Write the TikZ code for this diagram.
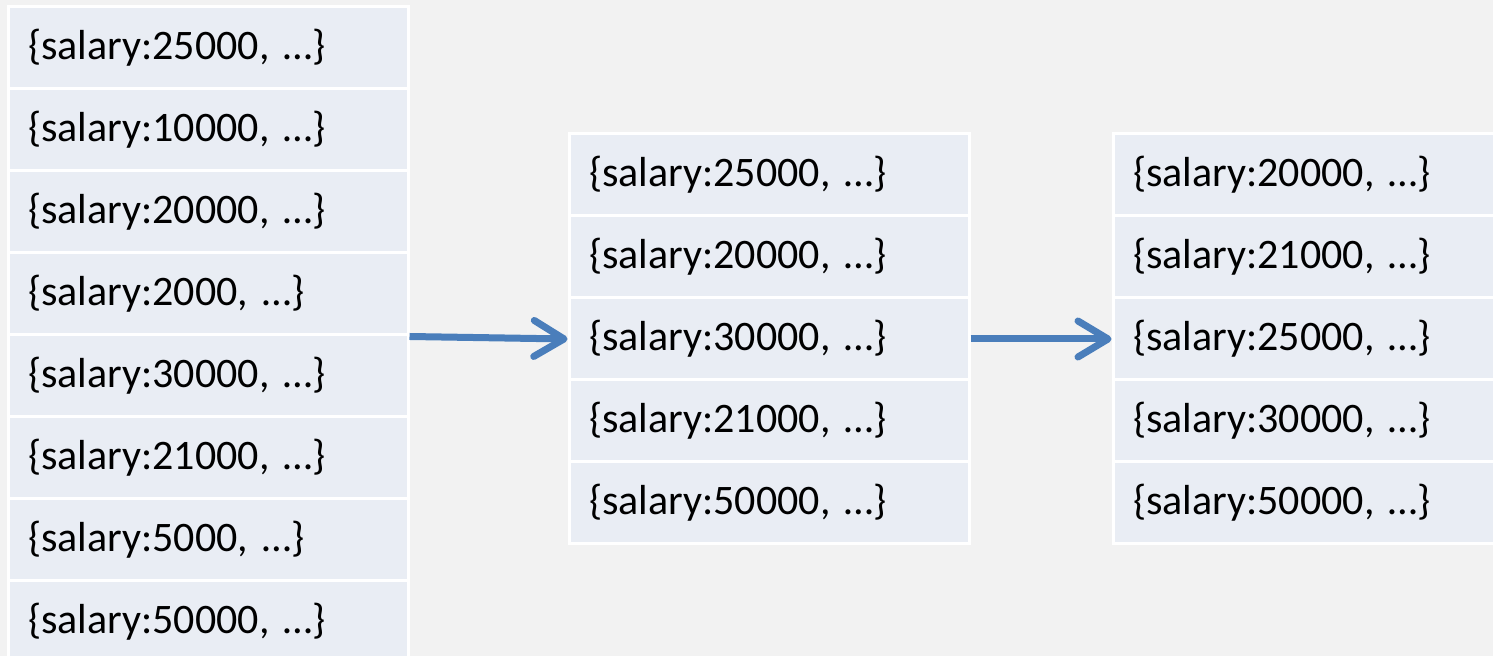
\documentclass[tikz,border=0pt]{standalone}
\usepackage{fontspec}
\setmainfont{Carlito}
\usetikzlibrary{positioning}
\usetikzlibrary{arrows.meta}
\definecolor{bggray}{HTML}{F2F2F2}
\definecolor{cellblue}{HTML}{E9EDF4}
\definecolor{arrowblue}{HTML}{4A7EBB}

\begin{document}
\begin{tikzpicture}[node distance=41pt, on grid,
      cell/.style={draw=white, line width=1.5pt, fill=cellblue, minimum width=200pt, minimum height=41pt,
        text width=180pt, inner xsep=10pt, align=left, font=\fontsize{21}{26}\selectfont},
      flow/.style={color=arrowblue, line width=3.5pt, -{Straight Barb[length=15pt,width=18pt,round]}}]

      \fill[bggray] (0,0) rectangle (746.5pt,-328pt);
      \useasboundingbox (0,0) rectangle (746.5pt,-328pt);

      % unsorted records
      \node[cell] (l1) at (104pt,-24pt) {\{salary:25000, …\}};
      \node[cell] (l2) [below=of l1] {\{salary:10000, …\}};
      \node[cell] (l3) [below=of l2] {\{salary:20000, …\}};
      \node[cell] (l4) [below=of l3] {\{salary:2000, …\}};
      \node[cell] (l5) [below=of l4] {\{salary:30000, …\}};
      \node[cell] (l6) [below=of l5] {\{salary:21000, …\}};
      \node[cell] (l7) [below=of l6] {\{salary:5000, …\}};
      \node[cell] (l8) [below=of l7] {\{salary:50000, …\}};

      % filtered
      \node[cell] (m1) at (384.5pt,-87.5pt) {\{salary:25000, …\}};
      \node[cell] (m2) [below=of m1] {\{salary:20000, …\}};
      \node[cell] (m3) [below=of m2] {\{salary:30000, …\}};
      \node[cell] (m4) [below=of m3] {\{salary:21000, …\}};
      \node[cell] (m5) [below=of m4] {\{salary:50000, …\}};

      % sorted
      \node[cell] (r1) at (656.5pt,-87.5pt) {\{salary:20000, …\}};
      \node[cell] (r2) [below=of r1] {\{salary:21000, …\}};
      \node[cell] (r3) [below=of r2] {\{salary:25000, …\}};
      \node[cell] (r4) [below=of r3] {\{salary:30000, …\}};
      \node[cell] (r5) [below=of r4] {\{salary:50000, …\}};

      \path[flow]
        (l4.south east) edge [] node[] {} (m3.west)
        (m3.east) edge [] node[] {} (r3.west)
        ;

\end{tikzpicture}
\end{document}
